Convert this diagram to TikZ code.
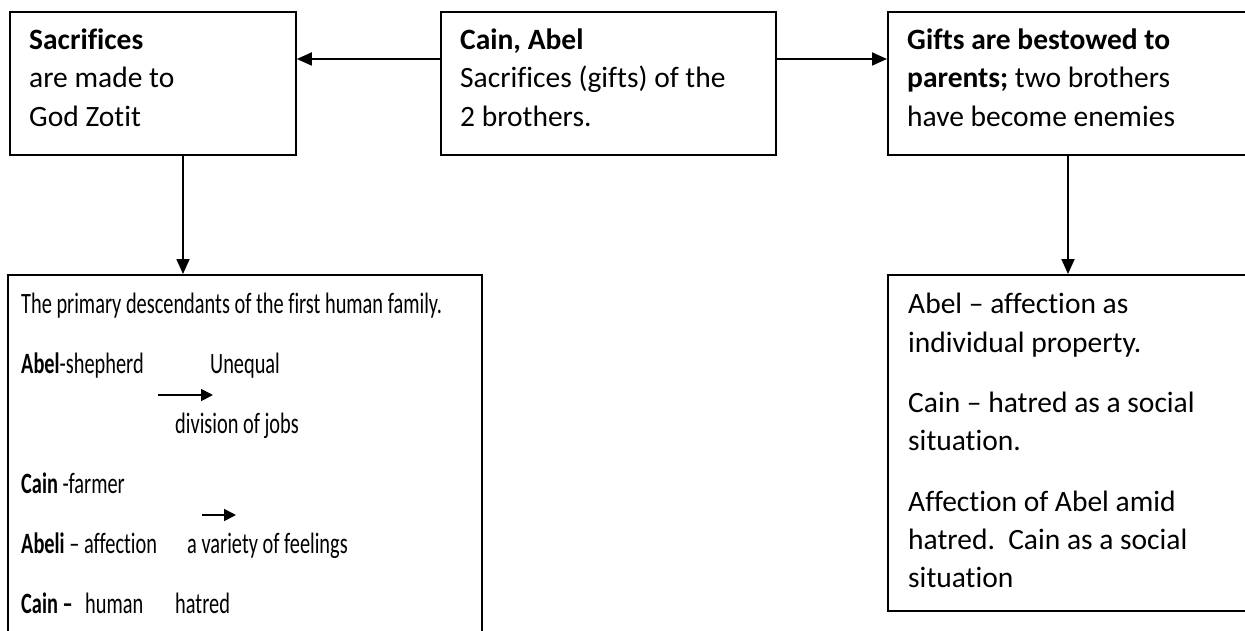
\documentclass[tikz,border=0pt]{standalone}
\usepackage{fontspec}
\setmainfont{Carlito}[Ligatures=NoCommon]
\newfontfamily\cond{Carlito}[FakeStretch=0.69,Ligatures=NoCommon]
\usetikzlibrary{arrows.meta}
\tikzset{
  box/.style={draw=black, line width=1.8pt, rectangle, inner sep=0pt, anchor=north west},
  txt/.style={anchor=base west, inner sep=0pt, font=\fontsize{29.5}{35}\selectfont},
  ctxt/.style={anchor=base west, inner sep=0pt, font=\fontsize{29.5}{35}\selectfont\cond},
  arr/.style={line width=1.8pt, -{Triangle[length=15pt,width=13pt]}},
  sarr/.style={line width=1.8pt, -{Triangle[length=12pt,width=12pt]}}
}
\begin{document}
\begin{tikzpicture}[x=1pt,y=-1pt]
\useasboundingbox (0,0) rectangle (1245,631);
\begin{scope}
\clip (0,0) rectangle (1245,631);
% boxes
\node[box, minimum width=286pt, minimum height=143pt] (b1) at (9,11) {};
\node[box, minimum width=335pt, minimum height=143pt] (b2) at (440,11) {};
\node[box, minimum width=380pt, minimum height=143pt] (b3) at (887,11) {};
\node[box, minimum width=474pt, minimum height=390pt] (b4) at (7,274) {};
\node[box, minimum width=380pt, minimum height=336pt] (b5) at (887,274) {};
\end{scope}
% box 1 text
\node[txt] (t11) at (29,50) {\bfseries Sacrifices};
\node[txt] (t12) at (29,88) {are made to};
\node[txt] (t13) at (29,127) {God Zotit};
% box 2 text
\node[txt] (t21) at (460,50) {\bfseries Cain, Abel};
\node[txt] (t22) at (460,88) {Sacrifices (gifts) of the};
\node[txt] (t23) at (460,127) {2 brothers.};
% box 3 text
\node[txt] (t31) at (907,50) {\bfseries Gifts are bestowed to};
\node[txt] (t32) at (907,88) {\textbf{parents;} two brothers};
\node[txt] (t33) at (907,127) {have become enemies};
% box 4 text
\node[ctxt] (t41) at (21,313) {The primary descendants of the first human family.};
\node[ctxt] (t42) at (21,373) {\textbf{Abel}-shepherd};
\node[ctxt] (t43) at (210,373) {Unequal};
\node[ctxt] (t44) at (175,433) {division of jobs};
\node[ctxt] (t45) at (21,493) {\textbf{Cain} -farmer};
\node[ctxt] (t46) at (21,553) {\textbf{Abeli} – affection};
\node[ctxt] (t47) at (187,553) {a variety of feelings};
\node[ctxt] (t48) at (21,613) {\textbf{Cain –}};
\node[ctxt] (t49) at (85,613) {human};
\node[ctxt] (t410) at (175,613) {hatred};
% box 5 text
\node[txt] (t51) at (908,313) {Abel – affection as};
\node[txt] (t52) at (908,352) {individual property.};
\node[txt] (t53) at (908,412) {Cain – hatred as a social};
\node[txt] (t54) at (908,450) {situation.};
\node[txt] (t55) at (908,511) {Affection of Abel amid};
\node[txt] (t56) at (908,549) {hatred.\ \ Cain as a social};
\node[txt] (t57) at (908,587) {situation};
% connectors
\draw[arr] ([yshift=-48pt]b2.north west) -- ([yshift=-48pt]b1.north east);
\draw[arr] ([yshift=-48pt]b2.north east) -- ([yshift=-48pt]b3.north west);
\coordinate (c1) at ([xshift=174pt]b1.south west);
\draw[arr] (c1) -- (c1 |- b4.north);
\coordinate (c2) at ([xshift=181pt]b3.south west);
\draw[arr] (c2) -- (c2 |- b5.north);
% small arrows
\coordinate (s1a) at (158,395);
\coordinate (s1b) at (213,395);
\draw[sarr] (s1a) -- (s1b);
\coordinate (s2a) at (202,515);
\coordinate (s2b) at (236,515);
\draw[sarr] (s2a) -- (s2b);
\end{tikzpicture}
\end{document}
